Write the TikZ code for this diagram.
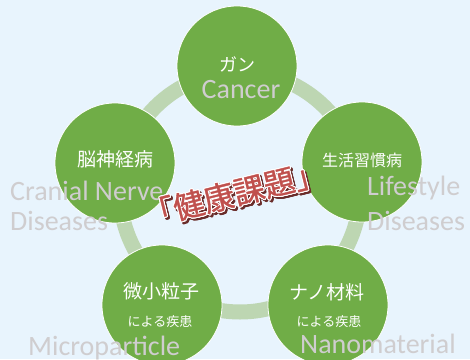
\documentclass[tikz,border=0pt]{standalone}
\usepackage{fontspec}
\setmainfont{Carlito}
\newfontfamily\jp{Noto Sans CJK JP}
\newfontfamily\jptitel[FakeBold=1.2]{Noto Sans CJK JP}
\usepackage{contour}
\contourlength{1pt}
\definecolor{hgblau}{HTML}{E8F4FD}
\definecolor{kreisgruen}{HTML}{70AD47}
\definecolor{ringgruen}{HTML}{BDD6B2}
\definecolor{textgrau}{HTML}{CFCDCF}
\definecolor{titelrot}{HTML}{C0504D}
\begin{document}
\begin{tikzpicture}[x=1pt,y=1pt,
		thema/.style={circle, fill=kreisgruen, draw=white, line width=0.8pt, minimum size=120pt, inner sep=0pt},
		jptext/.style={text=white, font=\jp\fontsize{19}{19}\selectfont, inner sep=0pt},
		jpklein/.style={text=white, font=\jp\fontsize{13}{13}\selectfont, inner sep=0pt},
		engtext/.style={text=textgrau, font=\fontsize{28}{28}\selectfont, inner sep=0pt, anchor=base west},
		titeltext/.style={rotate=14, font=\jptitel\fontsize{31}{31}\selectfont, inner sep=0pt}]
		%hintergrund
		\fill[hgblau] (0,0) rectangle (470,359);
		\useasboundingbox (0,0) rectangle (470,359);
		%ring
		\coordinate (mitte) at (240,167);
		\draw[ringgruen, line width=15pt] (mitte) circle (120);
		%kreise
		\node[thema] (krebs) at (237,293) {};
		\node[thema] (nerv) at (115,196) {};
		\node[thema] (leben) at (362,197) {};
		\node[thema] (mikro) at (162,54) {};
		\node[thema] (nano) at (328,54) {};
		%japanisch
		\node[jptext, font=\jp\fontsize{18}{18}\selectfont] (krebsjp) at (237,295) {ガン};
		\node[jptext] (nervjp) at (115,200) {脳神経病};
		\node[jptext, font=\jp\fontsize{16}{16}\selectfont] (lebenjp) at (362,199) {生活習慣病};
		\node[jptext] (mikrojp) at (161,68) {微小粒子};
		\node[jpklein] (mikrozus) at (160,37) {による疾患};
		\node[jptext] (nanojp) at (327,67) {ナノ材料};
		\node[jpklein] (nanozus) at (329,37) {による疾患};
		%englisch
		\node[engtext, anchor=base] (krebsen) at (241,260) {Cancer};
		\node[engtext] (nerven1) at (10,159) {Cranial Nerve};
		\node[engtext] (nerven2) at (10,129) {Diseases};
		\node[engtext] (lebenen1) at (367,164) {Lifestyle};
		\node[engtext] (lebenen2) at (367,129) {Diseases};
		\node[engtext] (mikroen) at (28,4) {Microparticle};
		\node[engtext] (nanoen) at (300,6) {Nanomaterial};
		%titel
		\node[titeltext, opacity=0.5] (titelschatten) at (236,163)
			{\contour{titelrot!55!black}{\textcolor{titelrot!55!black}{「健康課題」}}};
		\node[titeltext] (titel) at (234,165)
			{\contour{white}{\textcolor{titelrot}{「健康課題」}}};
	\end{tikzpicture}
\end{document}
